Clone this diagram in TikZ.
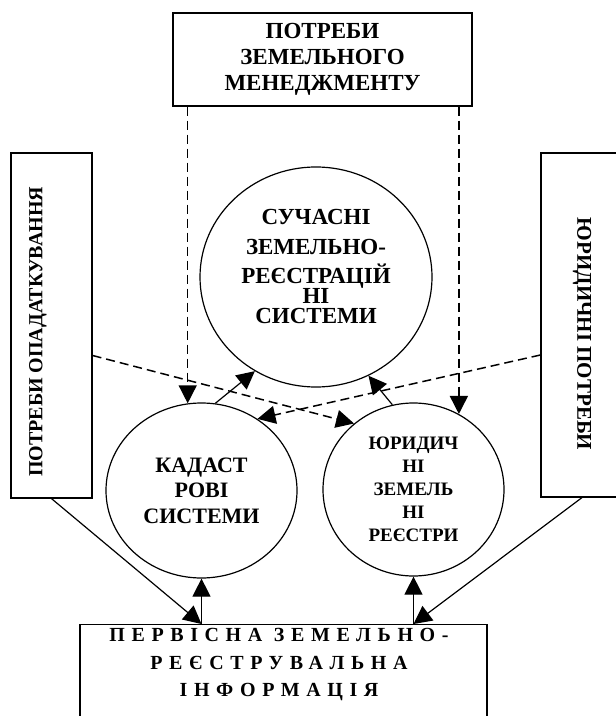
\documentclass[tikz,border=0pt]{standalone}
\usepackage{fontspec}
\setmainfont{Liberation Serif}
\usepackage{tikz}
\usetikzlibrary{positioning,shapes.geometric,arrows.meta}

\begin{document}
\begin{tikzpicture}[x=0.5pt, y=-0.5pt,
                    blocknode/.style={rectangle, draw=black, line width=0.6pt, inner sep=0pt, align=center, font=\bfseries\fontsize{11.5}{13}\selectfont},
                    ringnode/.style={ellipse, draw=black, line width=0.6pt, inner sep=0pt, align=center, font=\bfseries\fontsize{11}{15}\selectfont},
                    textnode/.style={inner sep=0pt, align=center, font=\bfseries\fontsize{10}{12}\selectfont},
                    linkarrow/.style={line width=0.6pt, -{Triangle[length=9pt,width=9pt]}},
                    dashedarrow/.style={linkarrow, line width=0.75pt, dash pattern=on 4.5pt off 2.5pt}]
                    \useasboundingbox (0,0) rectangle (615,716);
                    \node[blocknode, minimum width=149.5pt, minimum height=46.5pt] (potreby) at (322.5,59.5) {ПОТРЕБИ\\ЗЕМЕЛЬНОГО\\МЕНЕДЖМЕНТУ};
                    \node[blocknode, minimum width=40.5pt, minimum height=172.5pt] (podatky) at (51.5,325.5) {};
                    \node[textnode, rotate=90] (podatkytxt) at (38,332) {ПОТРЕБИ ОПАДАТКУВАННЯ};
                    \node[blocknode, minimum width=41pt, minimum height=172pt] (yurpotreby) at (582,325) {};
                    \node[textnode, rotate=-90, font=\bfseries\fontsize{10.5}{12}\selectfont] (yurpotrebytxt) at (582,334) {ЮРИДИЧНІ ПОТРЕБИ};
                    \node[ringnode, minimum width=116pt, minimum height=110pt] (suchasni) at (316,277) {};
                    \node[textnode, font=\bfseries\fontsize{11.5}{10}\selectfont] (suchasnitxt) at (316,266) {СУЧАСНІ\\[5pt]ЗЕМЕЛЬНО-\\[4.5pt]РЕЄСТРАЦІЙ\\НІ\\СИСТЕМИ};
                    \node[ringnode, minimum width=95.5pt, minimum height=87.5pt, font=\bfseries\fontsize{11}{12.75}\selectfont] (kadastr) at (201.5,490.5) {КАДАСТ\\РОВІ\\СИСТЕМИ};
                    \node[ringnode, minimum width=90.5pt, minimum height=86.5pt, font=\bfseries\fontsize{9.5}{11.5}\selectfont] (yurreestr) at (413.5,489.5) {ЮРИДИЧ\\НІ\\ЗЕМЕЛЬ\\НІ\\РЕЄСТРИ};
                    \node[blocknode, minimum width=203.5pt, minimum height=70pt, anchor=north] (pervynna) at (283.5,624) {};
                    \node[textnode, font=\bfseries\fontsize{10}{13.75}\selectfont\addfontfeature{LetterSpace=33}] (pervynnatxt) at (279,665) {ПЕРВІСНА ЗЕМЕЛЬНО-\\РЕЄСТРУВАЛЬНА\\ІНФОРМАЦІЯ};
                    \draw[dashedarrow] (kadastr.99 |- potreby.south) -- (kadastr.99);
                    \draw[dashedarrow] (yurreestr.59 |- potreby.south) -- (yurreestr.59);
                    \draw[dashedarrow] ([yshift=-15pt]podatky.east) -- (yurreestr.132);
                    \draw[dashedarrow] ([yshift=-15pt]yurpotreby.west) -- (kadastr.52);
                    \draw[linkarrow] (kadastr.81) -- (suchasni.237);
                    \draw[linkarrow] (yurreestr.104) -- (suchasni.298);
                    \draw[linkarrow] (podatky.south) -- (kadastr.south |- pervynna.north);
                    \draw[linkarrow] (kadastr.south |- pervynna.north) -- (kadastr.south);
                    \draw[linkarrow] (yurreestr.south |- pervynna.north) -- (yurreestr.south);
                    \draw[linkarrow] (yurpotreby.south) -- (yurreestr.south |- pervynna.north);
                \end{tikzpicture}
\end{document}
